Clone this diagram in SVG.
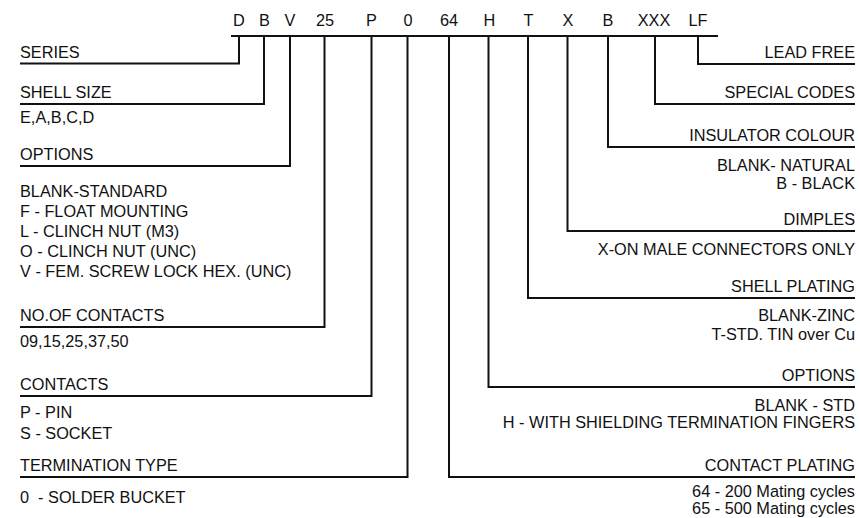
<svg xmlns="http://www.w3.org/2000/svg" width="860" height="518" viewBox="0 0 860 518">
<style>
text{font-family:"Liberation Sans",Arial,sans-serif;font-size:16.3px;fill:#111}
.c{text-anchor:middle}
.r{text-anchor:end}
.ln{fill:none;stroke:#111;stroke-width:2}
</style>
<rect width="860" height="518" fill="#fff"/>
<g id="codes">
<text class="c" x="239" y="26">D</text>
<text class="c" x="264.5" y="26">B</text>
<text class="c" x="290" y="26">V</text>
<text class="c" x="325" y="26">25</text>
<text class="c" x="371.5" y="26">P</text>
<text class="c" x="408" y="26">0</text>
<text class="c" x="449" y="26">64</text>
<text class="c" x="489.5" y="26">H</text>
<text class="c" x="528.5" y="26">T</text>
<text class="c" x="568" y="26">X</text>
<text class="c" x="608" y="26">B</text>
<text class="c" x="654" y="26">XXX</text>
<text class="c" x="698" y="26">LF</text>
</g>
<g id="connectors">
<path class="ln" d="M231 36H718"/>
<path class="ln" d="M239 36V63.5H20"/>
<path class="ln" d="M264 36V104H20"/>
<path class="ln" d="M290 36V166H20"/>
<path class="ln" d="M324.5 36V327H20"/>
<path class="ln" d="M371.5 36V396H20"/>
<path class="ln" d="M407.5 36V477H20"/>
<path class="ln" d="M449 36V477H855"/>
<path class="ln" d="M488.5 36V387H855"/>
<path class="ln" d="M528 36V298H855"/>
<path class="ln" d="M567.5 36V231H855"/>
<path class="ln" d="M608 36V147H855"/>
<path class="ln" d="M655 36V104H855"/>
<path class="ln" d="M698 36V64H855"/>
</g>
<g id="series"><text x="20" y="58">SERIES</text></g>
<g id="shell-size"><text x="20" y="98">SHELL SIZE</text><text x="20" y="123">E,A,B,C,D</text></g>
<g id="options-left"><text x="20" y="160">OPTIONS</text>
<text x="20" y="196.5">BLANK-STANDARD</text>
<text x="20" y="216.5">F - FLOAT MOUNTING</text>
<text x="20" y="236.5">L - CLINCH NUT (M3)</text>
<text x="20" y="256.5">O - CLINCH NUT (UNC)</text>
<text x="20" y="276.5">V - FEM. SCREW LOCK HEX. (UNC)</text></g>
<g id="no-of-contacts"><text x="20" y="321">NO.OF CONTACTS</text><text x="20" y="346.5">09,15,25,37,50</text></g>
<g id="contacts"><text x="20" y="390">CONTACTS</text><text x="20" y="418">P - PIN</text><text x="20" y="439">S - SOCKET</text></g>
<g id="termination"><text x="20" y="471">TERMINATION TYPE</text><text x="20" y="503">0&#160;&#160;- SOLDER BUCKET</text></g>
<g id="lead-free"><text class="r" x="855" y="58">LEAD FREE</text></g>
<g id="special-codes"><text class="r" x="855" y="98">SPECIAL CODES</text></g>
<g id="insulator"><text class="r" x="855" y="141">INSULATOR COLOUR</text><text class="r" x="855" y="170.5">BLANK- NATURAL</text><text class="r" x="855" y="189">B - BLACK</text></g>
<g id="dimples"><text class="r" x="855" y="225">DIMPLES</text><text class="r" x="855" y="255">X-ON MALE CONNECTORS ONLY</text></g>
<g id="shell-plating"><text class="r" x="855" y="292">SHELL PLATING</text><text class="r" x="855" y="321">BLANK-ZINC</text><text class="r" x="855" y="340">T-STD. TIN over Cu</text></g>
<g id="options-right"><text class="r" x="855" y="381">OPTIONS</text><text class="r" x="855" y="411">BLANK - STD</text><text class="r" x="855" y="428">H - WITH SHIELDING TERMINATION FINGERS</text></g>
<g id="contact-plating"><text class="r" x="855" y="471">CONTACT PLATING</text><text class="r" x="855" y="497">64 - 200 Mating cycles</text><text class="r" x="855" y="514">65 - 500 Mating cycles</text></g>
</svg>
